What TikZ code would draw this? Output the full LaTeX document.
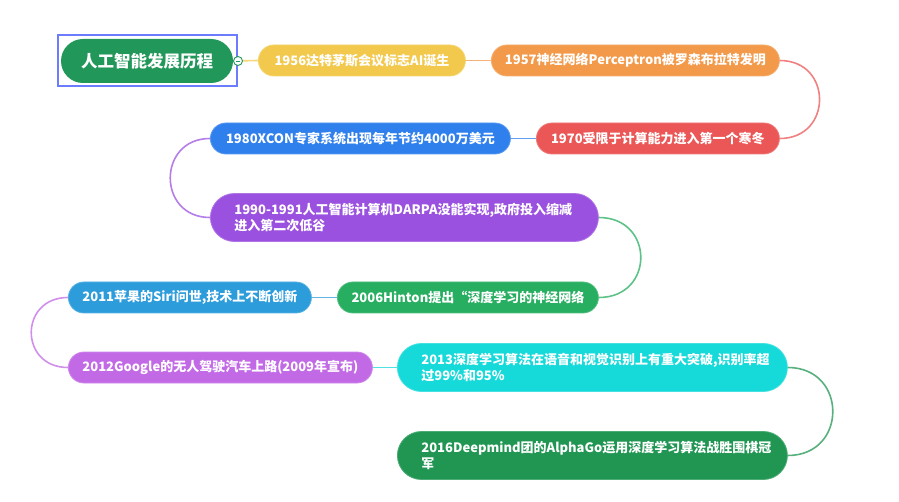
\documentclass[tikz,border=0pt]{standalone}
\usepackage{fontspec}
\setmainfont{Noto Sans CJK SC}
\definecolor{cRoot}{HTML}{22975A}
\definecolor{cA}{HTML}{F2C94C}
\definecolor{cB}{HTML}{F2994A}
\definecolor{cC}{HTML}{EB5757}
\definecolor{cD}{HTML}{2F80ED}
\definecolor{cE}{HTML}{9B51E0}
\definecolor{cF}{HTML}{27AE60}
\definecolor{cG}{HTML}{2D9CDB}
\definecolor{cH}{HTML}{C26AE6}
\definecolor{cI}{HTML}{16D9D9}
\definecolor{cJ}{HTML}{219653}
\definecolor{selblue}{HTML}{6B7CFF}
\begin{document}
\begin{tikzpicture}[x=1pt,y=-1pt,
  pill/.style={fill=#1, draw=#1!80!white, line width=0.8pt, text=white,
    font=\bfseries\fontsize{13}{16.5}\selectfont, rounded corners=15.5pt,
    minimum height=31pt, inner sep=0pt, anchor=west},
  pilltwo/.style={fill=#1, draw=#1!80!white, line width=0.8pt, text=white,
    font=\bfseries\fontsize{13}{16.5}\selectfont, rounded corners=24pt,
    minimum height=48pt, inner xsep=24pt, inner ysep=0pt, align=left, anchor=west},
  link/.style={draw=#1!75!white, line width=1.6pt}]
\useasboundingbox (0,0) rectangle (899,502);
% root
\node[fill=cRoot, text=white, font=\bfseries\fontsize{16.5}{20}\selectfont,
  rounded corners=22pt, minimum width=172pt, minimum height=44pt, inner sep=0pt]
  (root) at (147,61) {人工智能发展历程};
\node[draw=selblue, line width=1.3pt, minimum width=179pt, minimum height=51pt, inner sep=0pt]
  (sel) at (147.5,60.5) {};
% nodes
\node[pill=cA, minimum width=207pt] (n1) at (258,60.5) {1956达特茅斯会议标志AI诞生};
\node[pill=cB, minimum width=288pt] (n2) at (491,60.5) {1957神经网络Perceptron被罗森布拉特发明};
\node[pill=cC, minimum width=243pt] (n3) at (536,138.5) {1970受限于计算能力进入第一个寒冬};
\node[pill=cD, minimum width=300pt] (n4) at (210,138.5) {1980XCON专家系统出现每年节约4000万美元};
\node[pilltwo=cE, text width=340pt] (n5) at (210,217.5) {1990-1991人工智能计算机DARPA没能实现,政府投入缩减\\进入第二次低谷};
\node[pill=cF, minimum width=261pt] (n6) at (337,297.5) {2006Hinton提出“深度学习的神经网络};
\node[pill=cG, minimum width=243pt] (n7) at (68,297.5) {2011苹果的Siri问世,技术上不断创新};
\node[pill=cH, minimum width=304pt] (n8) at (68,367.5) {2012Google的无人驾驶汽车上路(2009年宣布)};
\node[pilltwo=cI, text width=342pt] (n9) at (397,367.5) {2013深度学习算法在语音和视觉识别上有重大突破,识别率超\\过99\%和95\%};
\node[pilltwo=cJ, text width=342pt] (n10) at (397,455.5) {2016Deepmind团的AlphaGo运用深度学习算法战胜围棋冠\\军};
% connectors
\draw[link=cA] (root.east) -- (n1.west);
\draw[link=cB] (n1.east) -- (n2.west);
\draw[link=cC] (n2.east) .. controls +(53,0) and +(53,0) .. (n3.east);
\draw[link=cD] (n3.west) -- (n4.east);
\draw[link=cE] (n4.west) .. controls +(-53,0) and +(-53,0) .. (n5.west);
\draw[link=cF] (n5.east) .. controls +(56,0) and +(56,0) .. (n6.east);
\draw[link=cG] (n6.west) -- (n7.east);
\draw[link=cH] (n7.west) .. controls +(-49,0) and +(-49,0) .. (n8.west);
\draw[link=cI] (n8.east) -- (n9.west);
\draw[link=cJ] (n9.east) .. controls +(60,0) and +(60,0) .. (n10.east);
% collapse button
\node[circle, draw=cRoot, fill=white, line width=0.9pt, minimum size=9pt, inner sep=0pt] (btn) at (238,61) {};
\draw[cRoot, line width=0.9pt] ([xshift=-2.2pt]btn.center) -- ([xshift=2.2pt]btn.center);
\end{tikzpicture}
\end{document}
